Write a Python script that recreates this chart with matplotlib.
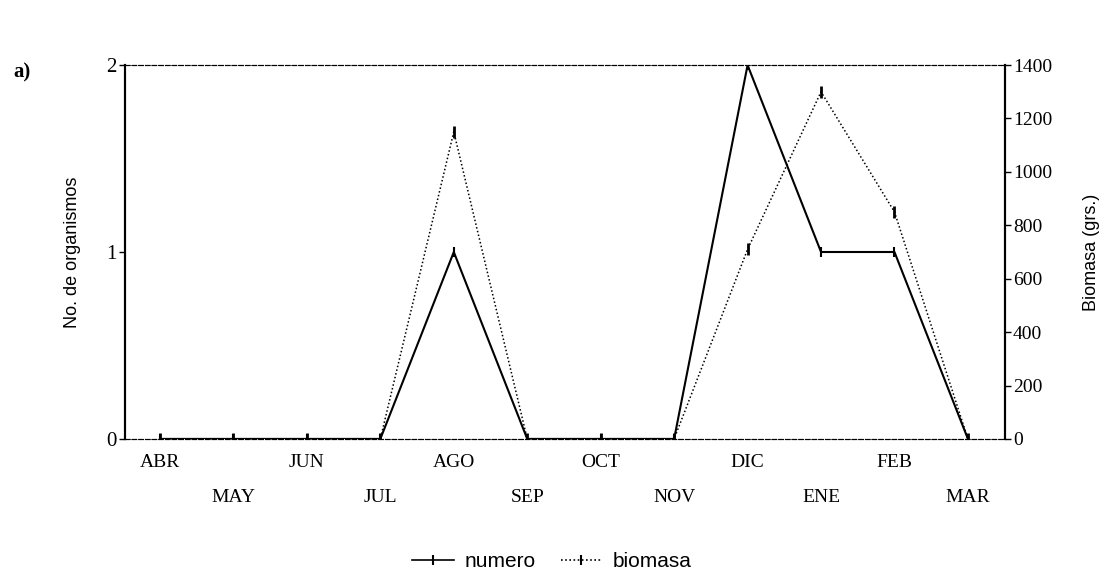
import matplotlib
matplotlib.use("Agg")
import matplotlib.pyplot as plt
from matplotlib.lines import Line2D

months = ["ABR", "MAY", "JUN", "JUL", "AGO", "SEP", "OCT", "NOV", "DIC", "ENE", "FEB", "MAR"]
numero = [0, 0, 0, 0, 1, 0, 0, 0, 2, 1, 1, 0]
biomasa = [0, 0, 0, 0, 1150, 0, 0, 0, 710, 1300, 850, 0]
left_ticks = [0, 1, 2]
right_ticks = [0, 200, 400, 600, 800, 1000, 1200, 1400]

fig = plt.figure(figsize=(11.04, 5.76), dpi=100)
ax = fig.add_axes([0.113, 0.238, 0.797, 0.649])
ax2 = ax.twinx()

x = list(range(len(months)))
ax.plot(x, numero, color="black", lw=1.5, marker="|", ms=7, mew=1.5, zorder=3)
ax2.plot(x, biomasa, color="black", lw=1.1, ls=(0, (1, 1.5)), marker="|", ms=8, mew=2, zorder=3)

ax.set_xlim(-0.48, 11.5)
ax.set_ylim(0, 2)
ax2.set_ylim(0, 1400)

ax.set_yticks(left_ticks)
ax.set_yticklabels([str(v) for v in left_ticks], family="Liberation Serif", fontsize=15)
ax2.set_yticks(right_ticks)
ax2.set_yticklabels([str(v) for v in right_ticks], family="Liberation Serif", fontsize=14)
ax.tick_params(axis="y", length=4, width=1, pad=2)
ax2.tick_params(axis="y", length=4, width=1, pad=2)

ax.set_xticks(x)
ax.set_xticklabels([])
ax.tick_params(axis="x", length=0)
for i, m in enumerate(months):
    yoff = -0.04 if i % 2 == 0 else -0.135
    ax.text(i, yoff, m, transform=ax.get_xaxis_transform(), ha="center", va="top",
            family="Liberation Serif", fontsize=14)

for a in (ax, ax2):
    a.spines["top"].set_linestyle((0, (4, 2)))
    a.spines["top"].set_linewidth(0.8)
    a.spines["bottom"].set_linestyle((0, (4, 2)))
    a.spines["bottom"].set_linewidth(0.8)
    a.spines["left"].set_linewidth(1.5)
    a.spines["right"].set_linewidth(1.5)

ax.set_ylabel("No. de organismos", family="Liberation Sans", fontsize=13, labelpad=18)
ax2.set_ylabel("Biomasa (grs.)", family="Liberation Sans", fontsize=13, labelpad=22)

fig.text(0.012, 0.865, "a)", family="Liberation Serif", fontweight="bold", fontsize=15)

handles = [
    Line2D([], [], color="black", lw=1.2, marker="|", ms=7, mew=1.5),
    Line2D([], [], color="black", lw=1.2, ls=(0, (1, 1.5)), marker="|", ms=7, mew=1.5),
]
leg = fig.legend(handles, ["numero", "biomasa"], loc="center", bbox_to_anchor=(0.5, 0.025),
                 ncol=2, frameon=False, prop={"family": "Liberation Sans", "size": 15},
                 handlelength=2.0, columnspacing=1.2, handletextpad=0.5)

fig.savefig("out.png", dpi=100)
